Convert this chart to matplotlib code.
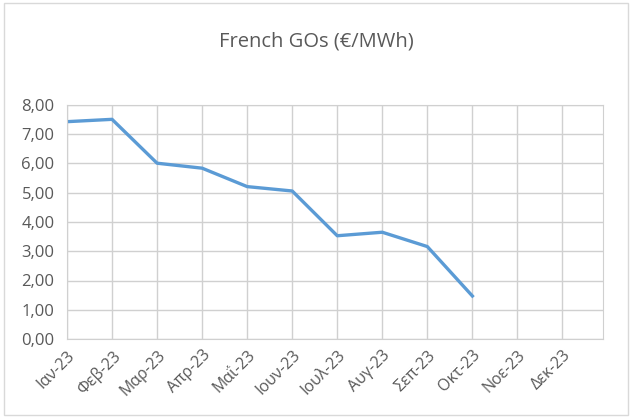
import matplotlib
matplotlib.use("Agg")
import matplotlib.pyplot as plt
from matplotlib.patches import Rectangle

months = ["Ιαν-23", "Φεβ-23", "Μαρ-23", "Απρ-23", "Μαΐ-23", "Ιουν-23",
          "Ιουλ-23", "Αυγ-23", "Σεπ-23", "Οκτ-23", "Νοε-23", "Δεκ-23"]
prices = [7.43, 7.51, 6.01, 5.84, 5.21, 5.06, 3.53, 3.65, 3.16, 1.47]
yticks = [0, 1, 2, 3, 4, 5, 6, 7, 8]
title = "French GOs (€/MWh)"

plt.rcParams['font.family'] = ['Open Sans', 'DejaVu Sans']

fig = plt.figure(figsize=(6.32, 4.18), dpi=100)
fig.patch.set_facecolor("white")
fig.patches.append(Rectangle((0.006, 0.006), 0.988, 0.988, transform=fig.transFigure,
                             fill=False, edgecolor="#D9D9D9", linewidth=1))
ax = fig.add_axes([67/632, 1-339/418, (603-67)/632, (339-105)/418])

x = list(range(len(months)))
ax.plot(x[:len(prices)], prices, color="#5B9BD5", linewidth=2.4, solid_joinstyle="round")
ax.set_xlim(0, 11.9)
ax.set_ylim(0, 8)
ax.set_yticks(yticks)
ax.set_yticklabels([f"{v:.2f}".replace(".", ",") for v in yticks], fontsize=12, color="#595959")
ax.set_xticks(x)
ax.set_xticklabels(months, rotation=45, ha="right", rotation_mode="anchor",
                   fontsize=11.5, color="#595959")
ax.grid(True, color="#D0D0D0", linewidth=1)
ax.set_axisbelow(True)
for s in ax.spines.values():
    s.set_color("#D0D0D0")
ax.tick_params(axis="y", length=0, pad=9)
ax.tick_params(axis="x", length=0, pad=6)
fig.text(316/632, 1-42/418, title, ha="center", va="center", fontsize=14.5, color="#595959")
fig.savefig("out.png", dpi=100)
